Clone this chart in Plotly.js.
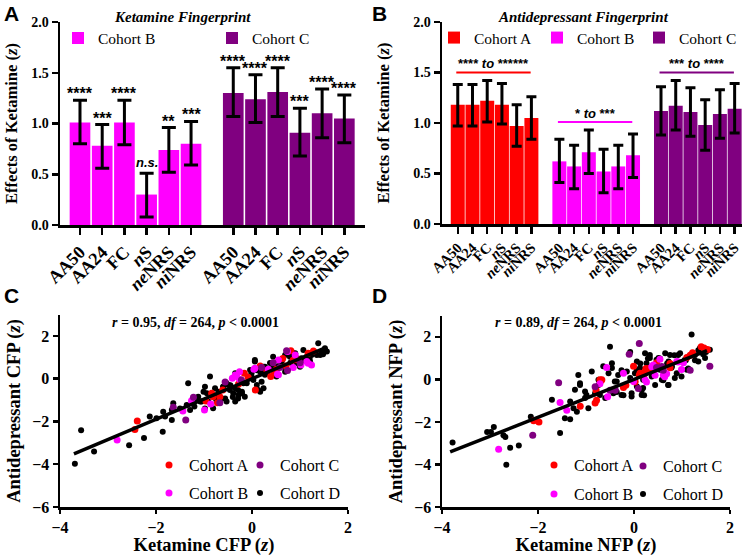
<!DOCTYPE html>
<html><head><meta charset="utf-8">
<script src="https://cdn.plot.ly/plotly-3.0.1.min.js"></script>
<style>html,body{margin:0;padding:0;background:#fff}#chart{width:748px;height:556px}</style>
</head><body><div id="chart"></div>
<script>
// ---------- DATA ----------
const categories = ['AA50','AA24','FC','<i>n</i>S','<i>ne</i>NRS','<i>ni</i>NRS'];
const cohortNames = ['Cohort A','Cohort B','Cohort C','Cohort D'];

// Panel A: Ketamine fingerprint
const ketB    = [1.01,0.78,1.01,0.30,0.74,0.80];
const ketB_hi = [1.23,0.99,1.23,0.51,0.96,1.02];
const ketB_lo = [0.80,0.56,0.79,0.08,0.52,0.59];
const ketC    = [1.30,1.24,1.31,0.91,1.10,1.05];
const ketC_hi = [1.55,1.48,1.55,1.15,1.34,1.28];
const ketC_lo = [1.07,1.01,1.07,0.68,0.86,0.81];
const ketB_sig = ['****','***','****','<i>n.s.</i>','**','***'];
const ketC_sig = ['****','****','****','***','****','****'];

// Panel B: Antidepressant fingerprint
const adA    = [1.18,1.18,1.22,1.18,0.97,1.05];
const adA_hi = [1.38,1.38,1.42,1.39,1.18,1.26];
const adA_lo = [0.97,0.97,1.01,0.99,0.77,0.84];
const adB    = [0.62,0.57,0.71,0.52,0.57,0.68];
const adB_hi = [0.84,0.78,0.93,0.74,0.78,0.89];
const adB_lo = [0.41,0.35,0.50,0.31,0.35,0.46];
const adC    = [1.12,1.17,1.11,0.98,1.09,1.14];
const adC_hi = [1.36,1.42,1.35,1.23,1.33,1.39];
const adC_lo = [0.88,0.93,0.87,0.73,0.85,0.90];
const adSigText = ['**** <i>to</i> ******','* <i>to</i> ***','*** <i>to</i> ****'];
const adSigLevel = [1.50,1.01,1.50];

// Panel C: CFP scatter (Ketamine x, Antidepressant y)
const cfpA_x = [-2.44,-2.39,-0.96,-0.84,-0.81,-0.72,-0.67,-0.61,-0.28,-0.16,-0.08,0.07,0.17,0.31,0.39,0.46,0.51,0.64,0.71,0.81,0.86,0.97,1.17,1.28];
const cfpA_y = [-2.37,-1.98,-1.04,-0.68,-0.84,-1.12,-0.84,-0.53,-0.25,0.25,0.07,-0.53,0.60,0.38,0.10,0.33,0.44,0.94,0.60,1.31,0.88,0.88,1.19,1.30];
const cfpB_x = [-2.81,-1.44,-1.26,-0.99,-0.86,-0.41,-0.35,-0.26,-0.26,0.04,0.34,0.53,0.55,0.74,0.86,1.02,1.14,1.24,0.90,-0.32,0.06,0.55,1.17];
const cfpB_y = [-2.87,-1.51,-1.03,-1.46,-1.18,0.02,0.17,0.33,-0.03,0.44,0.44,0.21,0.88,1.27,0.53,0.64,0.80,0.64,1.11,0.10,0.49,0.18,0.72];
const cfpC_x = [-1.64,-1.38,-1.22,-0.56,-0.67,-0.22,0.20,0.74,0.72,1.00,0.44,0.58];
const cfpC_y = [-1.34,-1.93,-0.87,-0.15,-1.12,-0.06,0.53,0.38,1.31,0.75,0.75,0.53];
const cfpD_x = [-3.69,-3.56,-3.29,-2.56,-2.25,-2.13,-1.86,-1.99,-1.85,-1.81,-1.67,-1.67,-1.64,-1.50,-1.33,-1.36,-1.29,-1.15,-1.08,-1.01,-0.94,-0.91,-0.875,-0.81,-0.77,-0.63,-0.53,-0.53,-0.46,-0.35,-0.35,-0.28,-0.21,-0.18,-0.21,-0.15,-0.11,-0.01,0.06,0.17,0.27,0.375,0.44,0.51,0.62,0.69,0.79,0.93,1.00,1.07,1.14,1.35,1.38,1.45,1.52,1.56,0.86,0.58,0.44,0.24,0.31,0.03,-0.60,-1.05,-0.98,-0.74,1.24,1.20,0.70,0.10,-0.05,0.25,0.45,0.95,1.30,1.48,1.10,0.80,0.55,-0.45,-0.70,-1.20,-0.40,
  1.42,1.28,1.03,0.69,0.27,0.17,0.06,-0.04,0.20,-0.01,0.10,-0.29,-0.39,-0.49,-0.60,-0.70,-0.81,-0.98,-1.12,-0.35,-0.56,0.13,0.24,0.90,1.21,-0.29,-0.74];
const cfpD_y = [-3.98,-2.41,-3.41,-3.11,-2.77,-1.77,-2.48,-1.85,-1.54,-1.77,-1.93,-1.46,-1.15,-1.39,-0.21,-1.23,-1.46,-0.92,-1.07,-0.61,-0.68,-1.07,0.10,-1.38,-0.45,-0.92,-1.07,-0.21,-0.53,-0.45,0.25,-0.76,-0.68,-0.21,-0.61,-0.84,-0.21,0.25,0.80,-0.61,0.18,0.74,0.56,0.10,0.80,0.33,1.03,0.72,0.56,1.34,1.03,1.11,1.66,1.27,1.42,1.27,1.19,0.88,1.03,0.56,0.25,-0.06,-0.37,-1.07,-1.39,-1.00,1.11,0.95,0.55,0.40,0.10,0.30,0.35,0.95,1.25,1.15,0.85,0.75,0.60,-0.30,-0.75,-1.30,-0.85,
  1.11,1.19,0.96,1.11,0.56,0.33,0.88,0.41,-0.14,0.10,-0.29,-0.53,-0.68,-0.29,-0.37,-0.61,-0.76,-0.37,-0.84,-1.07,-0.92,-0.53,-0.45,1.19,0.80,-0.92,-1.00];
const cfpFit_x = [-3.71,1.55];
const cfpFit_y = [-3.52,1.47];

// Panel D: NFP scatter
const nfpA_x = [-2.09,-1.98,-1.12,-0.81,-0.78,-0.79,-0.69,-0.67,-0.22,-0.17,-0.01,0.02,0.11,0.21,0.25,0.32,0.47,0.75,0.75,1.10,1.17,1.22,1.40,1.46,1.53,0.125,0.23,0.40,-0.71,0.02];
const nfpA_y = [-1.95,-2.00,-1.26,-1.11,-0.98,-0.51,-0.07,-0.02,-0.38,-0.27,0.62,-0.12,0.20,0.24,0.51,0.51,0.78,0.55,0.75,1.03,1.14,1.25,1.53,1.48,1.40,0.29,0.37,0.53,-0.02,-0.10];
const nfpB_x = [-2.82,-1.54,-1.40,-0.71,-0.57,-0.55,-0.22,-0.01,0.26,0.37,0.44,0.54,0.64,0.68,0.92,0.99,1.03,0.40,0.89,0.61,0.23];
const nfpB_y = [-3.29,-1.09,-1.45,-0.20,0.56,-0.82,0.29,-0.10,-0.12,0.59,0.20,0.95,0.12,0.27,0.82,0.46,0.78,0.68,0.84,0.21,-0.02];
const nfpC_x = [-1.57,-2.11,-0.81,-0.39,-0.10,0.11,0.09,0.47,1.17,1.58,0.61,0.58,-0.50,-0.40];
const nfpC_y = [-0.16,-2.63,-0.35,-0.51,1.18,1.69,-0.43,0.56,0.43,0.62,0.43,0.60,-0.51,-0.49];
const nfpD_x = [-3.78,-3.06,-2.92,-2.98,-2.72,-2.68,-2.66,-2.58,-2.40,-2.15,-1.71,-1.54,-1.33,-1.26,-1.44,-1.33,-1.19,-1.16,-1.125,-0.95,-0.99,-0.88,-0.74,-0.71,-0.64,-0.53,-0.46,-0.50,-0.43,-0.36,-0.36,-0.26,-0.26,-0.22,-0.08,-0.05,-0.08,0.02,0.06,0.06,0.125,0.13,0.16,0.19,0.21,0.26,0.29,0.33,0.37,0.39,0.47,0.54,0.54,0.61,0.69,0.71,0.75,0.78,0.84,0.89,0.92,0.96,1.08,1.10,1.13,1.20,1.27,1.34,1.34,1.375,1.44,1.50,
  -0.46,-0.33,-0.74,-1.125,-1.23,-1.02,-0.81,-0.46,-0.40,-0.15,0.06,0.23,0.33,0.37,0.51,0.65,0.72,0.79,0.92,1.06,1.27,1.48,1.58,0.85,0.99,0.58,0.44,0.19,-0.05,0.16,0.72,-0.60,-1.02];
const nfpD_y = [-2.97,-2.47,-2.24,-2.47,-2.63,-2.71,-4.01,-3.21,-3.11,-1.76,-0.96,-2.52,-1.04,-1.36,-1.83,-1.87,-1.52,0.21,-0.18,-1.36,-0.73,0.37,-0.26,-0.73,0.62,0.29,0.76,1.54,-0.65,-0.10,-0.59,0.43,-0.73,-0.75,1.29,-0.81,0.06,0.29,-0.34,0.43,0.53,0.75,-0.51,-0.02,-0.75,0.76,0.98,1.15,0.13,0.27,0.92,0.45,0.98,-0.04,0.75,-0.26,1.15,0.55,1.14,0.29,0.82,1.23,0.90,0.45,0.51,2.11,0.90,0.84,1.37,1.47,1.18,1.29,
  0.53,0.21,-0.02,-0.26,-0.49,-0.57,-0.65,-0.49,-0.10,0.37,0.84,1.23,1.00,0.53,1.00,1.23,0.84,0.60,1.15,0.92,1.15,1.00,1.39,0.06,0.13,-0.02,-0.26,-0.41,-0.65,-0.73,-0.26,-0.88,-0.88];
const nfpFit_x = [-3.83,1.52];
const nfpFit_y = [-3.41,1.35];

// ---------- STYLE ----------
const RED = '#ff0000', MAG = '#ff00ff', PUR = '#800080', BLK = '#000000';
const SERIF = 'Liberation Serif, Times New Roman, serif';
const SANS = 'Liberation Sans, Arial, sans-serif';
const W = 748, H = 556;
const px = v => v / W, py = v => 1 - v / H;

// bar positions (layout)
const idx = categories.map((c,i)=>i);
const posA1 = idx.map(i=>i), posA2 = idx.map(i=>i+6.9);
const posB1 = idx.map(i=>i), posB2 = idx.map(i=>i+6.9), posB3 = idx.map(i=>i+13.8);

// one legend per trace, placed where the reference shows its key (symbol centre in px)
const legends = {};
let legCount = 0;
function newLegend(cx, cy, size) {
  legCount += 1;
  const id = legCount === 1 ? 'legend' : 'legend' + legCount;
  legends[id] = {x:px(cx - 20), xanchor:'left', y:py(cy), yanchor:'middle', orientation:'v',
    font:{family:SERIF, size:size, color:BLK}, bgcolor:'rgba(0,0,0,0)', borderwidth:0,
    itemclick:false, itemdoubleclick:false, tracegroupgap:0};
  return id;
}

function barTrace(name, x, v, hi, lo, color, xa, ya, w, cap, leg) {
  return {type:'bar', name, x, y:v, width:w, marker:{color, line:{width:0}},
    error_y:{type:'data', symmetric:false, array:hi.map((h,i)=>h-v[i]), arrayminus:lo.map((l,i)=>v[i]-l),
      color:BLK, thickness:3, width:cap},
    xaxis:xa, yaxis:ya, legend:leg, showlegend:true, hoverinfo:'skip'};
}
function dotTrace(name, x, y, color, size, xa, ya, leg) {
  return {type:'scatter', mode:'markers', name, x, y, marker:{color, size, line:{width:0}},
    xaxis:xa, yaxis:ya, legend:leg, showlegend:true, hoverinfo:'skip'};
}
function fitTrace(x, y, xa, ya) {
  return {type:'scatter', mode:'lines', x, y, line:{color:BLK, width:3.5}, xaxis:xa, yaxis:ya, showlegend:false, hoverinfo:'skip'};
}

const traces = [
  barTrace(cohortNames[1], posA1, ketB, ketB_hi, ketB_lo, MAG, 'x', 'y', 0.93, 7, newLegend(78, 38.5, 15.5)),
  barTrace(cohortNames[2], posA2, ketC, ketC_hi, ketC_lo, PUR, 'x', 'y', 0.93, 7, newLegend(232, 38.5, 15.5)),
  barTrace(cohortNames[0], posB1, adA, adA_hi, adA_lo, RED, 'x2', 'y2', 0.95, 5, newLegend(454, 38, 15.5)),
  barTrace(cohortNames[1], posB2, adB, adB_hi, adB_lo, MAG, 'x2', 'y2', 0.95, 5, newLegend(557, 38, 15.5)),
  barTrace(cohortNames[2], posB3, adC, adC_hi, adC_lo, PUR, 'x2', 'y2', 0.95, 5, newLegend(659, 38, 15.5)),
  dotTrace(cohortNames[3], cfpD_x, cfpD_y, BLK, 6, 'x3', 'y3', newLegend(260, 493, 16)),
  dotTrace(cohortNames[0], cfpA_x, cfpA_y, RED, 7, 'x3', 'y3', newLegend(169, 465, 16)),
  dotTrace(cohortNames[1], cfpB_x, cfpB_y, MAG, 7, 'x3', 'y3', newLegend(169, 493, 16)),
  dotTrace(cohortNames[2], cfpC_x, cfpC_y, PUR, 7, 'x3', 'y3', newLegend(260, 465, 16)),
  fitTrace(cfpFit_x, cfpFit_y, 'x3', 'y3'),
  dotTrace(cohortNames[3], nfpD_x, nfpD_y, BLK, 6, 'x4', 'y4', newLegend(643, 494, 16)),
  dotTrace(cohortNames[0], nfpA_x, nfpA_y, RED, 7, 'x4', 'y4', newLegend(554, 465, 16)),
  dotTrace(cohortNames[1], nfpB_x, nfpB_y, MAG, 7, 'x4', 'y4', newLegend(554, 494, 16)),
  dotTrace(cohortNames[2], nfpC_x, nfpC_y, PUR, 7, 'x4', 'y4', newLegend(643, 466, 16)),
  fitTrace(nfpFit_x, nfpFit_y, 'x4', 'y4'),
];

const axLine = {showline:true, linecolor:BLK, linewidth:2.5, ticks:'outside', tickcolor:BLK, tickwidth:2.5,
  showgrid:false, zeroline:false, fixedrange:true, automargin:false};
const numFont = {family:SERIF, size:14, color:BLK, weight:'bold'};
const barTitleFont = {family:SERIF, size:16.5, color:BLK, weight:'bold'};
const scTitleFont = {family:SERIF, size:18.5, color:BLK, weight:'bold'};
const scTickFont = {family:SERIF, size:16, color:BLK, weight:'bold'};

const layout = Object.assign({
  width:W, height:H, margin:{l:0,r:0,t:0,b:0, autoexpand:false}, paper_bgcolor:'#fff', plot_bgcolor:'rgba(0,0,0,0)',
  barmode:'overlay', showlegend:true,
  xaxis: Object.assign({}, axLine, {domain:[px(60),px(365)], range:[-0.9,12.83], anchor:'y',
    tickvals:posA1.concat(posA2), ticktext:categories.concat(categories), tickangle:-45, ticklen:7,
    tickfont:{family:SERIF, size:18, color:BLK, weight:'bold'}}),
  yaxis: Object.assign({}, axLine, {domain:[py(225),py(22)], range:[0,2], anchor:'x', dtick:0.5, tickformat:'.1f',
    ticklen:6, tickfont:numFont, title:{text:'Effects of Ketamine (<i>z</i>)', font:barTitleFont, standoff:10}}),
  xaxis2: Object.assign({}, axLine, {domain:[px(442),px(742)], range:[-1.07,19.3], anchor:'y2',
    tickvals:posB1.concat(posB2, posB3), ticktext:categories.concat(categories, categories), tickangle:-45, ticklen:7,
    tickfont:{family:SERIF, size:14.5, color:BLK, weight:'bold'}}),
  yaxis2: Object.assign({}, axLine, {domain:[py(224),py(22)], range:[0,2], anchor:'x2', dtick:0.5, tickformat:'.1f',
    ticklen:6, tickfont:numFont, title:{text:'Effects of Ketamine (<i>z</i>)', font:barTitleFont, standoff:20}}),
  xaxis3: Object.assign({}, axLine, {domain:[px(60),px(348)], range:[-4,2], anchor:'y3', dtick:2, ticklen:4,
    tickfont:scTickFont, title:{text:'Ketamine CFP (<i>z</i>)', font:scTitleFont, standoff:5}}),
  yaxis3: Object.assign({}, axLine, {domain:[py(507),py(315)], range:[-6,2.98], anchor:'x3', tickvals:[-6,-4,-2,0,2], ticklen:5,
    tickfont:scTickFont, title:{text:'Antidepressant CFP (<i>z</i>)', font:scTitleFont, standoff:7}}),
  xaxis4: Object.assign({}, axLine, {domain:[px(442),px(730)], range:[-4,2], anchor:'y4', dtick:2, ticklen:4,
    tickfont:scTickFont, title:{text:'Ketamine NFP (<i>z</i>)', font:scTitleFont, standoff:5}}),
  yaxis4: Object.assign({}, axLine, {domain:[py(507),py(316)], range:[-6,2.98], anchor:'x4', tickvals:[-6,-4,-2,0,2], ticklen:5,
    tickfont:scTickFont, title:{text:'Antidepressant NFP (<i>z</i>)', font:scTitleFont, standoff:7}}),
  annotations: [],
  shapes: []
}, legends);

const A = layout.annotations;
// panel letters
[['A',2,0],['B',370,0],['C',2,282],['D',370,282]].forEach(([t,x,y])=>{
  A.push({text:'<b>'+t+'</b>', xref:'paper', yref:'paper', x:px(x), y:py(y), xanchor:'left', yanchor:'top', showarrow:false,
    font:{family:SANS, size:21, color:BLK}});
});
// panel titles
A.push({text:'<b><i>Ketamine Fingerprint</i></b>', xref:'paper', yref:'paper', x:px(182), y:py(17), xanchor:'center', yanchor:'middle',
  showarrow:false, font:{family:SERIF, size:15, color:BLK}});
A.push({text:'<b><i>Antidepressant Fingerprint</i></b>', xref:'paper', yref:'paper', x:px(583), y:py(17), xanchor:'center', yanchor:'middle',
  showarrow:false, font:{family:SERIF, size:15, color:BLK}});
// correlation stats
A.push({text:'<b><i>r</i> = 0.95, <i>df</i> = 264, <i>p</i> &lt; 0.0001</b>', xref:'paper', yref:'paper', x:px(195), y:py(322),
  xanchor:'center', yanchor:'middle', showarrow:false, font:{family:SERIF, size:14, color:BLK}});
A.push({text:'<b><i>r</i> = 0.89, <i>df</i> = 264, <i>p</i> &lt; 0.0001</b>', xref:'paper', yref:'paper', x:px(578), y:py(322),
  xanchor:'center', yanchor:'middle', showarrow:false, font:{family:SERIF, size:14, color:BLK}});
// significance stars panel A
function stars(pos, hi, sig) {
  pos.forEach((p,i)=>{
    const ns = sig[i].indexOf('n.s.') >= 0;
    A.push({text:'<b>'+sig[i]+'</b>', xref:'x', yref:'y', x:p, y:hi[i], xanchor:'center', yanchor:'bottom',
      yshift: ns ? 1 : -4, showarrow:false, font:{family:SANS, size: ns ? 13 : 16, color:BLK}});
  });
}
stars(posA1, ketB_hi, ketB_sig);
stars(posA2, ketC_hi, ketC_sig);
// significance lines panel B
const groupsB = [posB1, posB2, posB3], sigColors = [RED, MAG, PUR];
groupsB.forEach((g,k)=>{
  layout.shapes.push({type:'line', xref:'x2', yref:'y2', x0:g[0]-0.1, x1:g[5]-0.05, y0:adSigLevel[k], y1:adSigLevel[k],
    line:{color:sigColors[k], width:2}});
  A.push({text:'<b>'+adSigText[k]+'</b>', xref:'x2', yref:'y2', x:(g[0]+g[5])/2 - 0.07, y:adSigLevel[k], xanchor:'center', yanchor:'bottom',
    yshift:-1, showarrow:false, font:{family:SANS, size:13, color:BLK}});
});

Plotly.newPlot('chart', traces, layout, {staticPlot:true, displayModeBar:false});
</script>
</body></html>
